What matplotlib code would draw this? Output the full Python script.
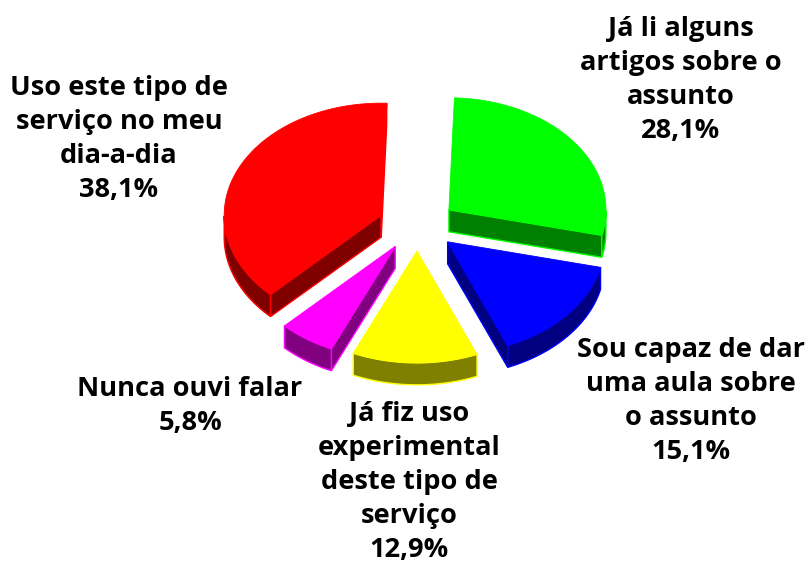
import matplotlib
matplotlib.use("Agg")
import matplotlib.pyplot as plt
import numpy as np

# slices, clockwise from the top of the pie
labels = ["Já li alguns\nartigos sobre o\nassunto",
          "Sou capaz de dar\numa aula sobre\no assunto",
          "Já fiz uso\nexperimental\ndeste tipo de\nserviço",
          "Nunca ouvi falar",
          "Uso este tipo de\nserviço no meu\ndia-a-dia"]
shares = [28.1, 15.1, 12.9, 5.8, 38.1]
share_text = ["28,1%", "15,1%", "12,9%", "5,8%", "38,1%"]
colors = ["#00ff00", "#0000ff", "#ffff00", "#ff00ff", "#ff0000"]
dark_colors = ["#008000", "#000080", "#808000", "#800080", "#800000"]
label_pos = [(681, 80), (691, 401), (409, 482), (190, 406), (119, 139)]

# pie geometry in pixels
cx, cy = 417.5, 225.3
rx, ry = 157, 112
depth = 22
explode = 0.24
start_deg = 2

plt.rcParams['font.family'] = ['Open Sans', 'DejaVu Sans']
fig = plt.figure(figsize=(8.11, 5.62), dpi=100)
ax = fig.add_axes([0, 0, 1, 1])
ax.set_xlim(0, 811)
ax.set_ylim(562, 0)
ax.axis("off")

edges = start_deg + np.cumsum([0] + shares) * 3.6

for i in range(len(shares)):
    a0, a1 = edges[i], edges[i + 1]
    mid = np.radians((a0 + a1) / 2)
    ox = cx + explode * rx * np.sin(mid) * 1.05
    oy = cy - explode * ry * np.cos(mid) * 0.95
    t = np.radians(np.linspace(a0, a1, 200))
    px = ox + rx * np.sin(t)
    py = oy - ry * np.cos(t)

    # cut faces, only those turned to the viewer
    if np.sin(t[0]) < 0:
        ax.fill([ox, px[0], px[0], ox], [oy, py[0], py[0] + depth, oy + depth],
                facecolor=dark_colors[i], edgecolor=colors[i], lw=1, zorder=2)
    if np.sin(t[-1]) > 0:
        ax.fill([ox, px[-1], px[-1], ox], [oy, py[-1], py[-1] + depth, oy + depth],
                facecolor=dark_colors[i], edgecolor=colors[i], lw=1, zorder=2)
    # rim
    front = np.cos(t) < 0
    if front.any():
        ax.fill(np.r_[px[front], px[front][::-1]],
                np.r_[py[front], py[front][::-1] + depth],
                facecolor=dark_colors[i], edgecolor=colors[i], lw=1, zorder=2)
    # top surface
    ax.fill(np.r_[ox, px], np.r_[oy, py], facecolor=colors[i],
            edgecolor=colors[i], lw=0.6, zorder=3)

    ax.text(label_pos[i][0], label_pos[i][1], labels[i] + "\n" + share_text[i],
            ha="center", va="center", fontsize=19.6, fontweight="bold",
            color="black", linespacing=1.41, zorder=5)

fig.savefig("out.png", dpi=100)
